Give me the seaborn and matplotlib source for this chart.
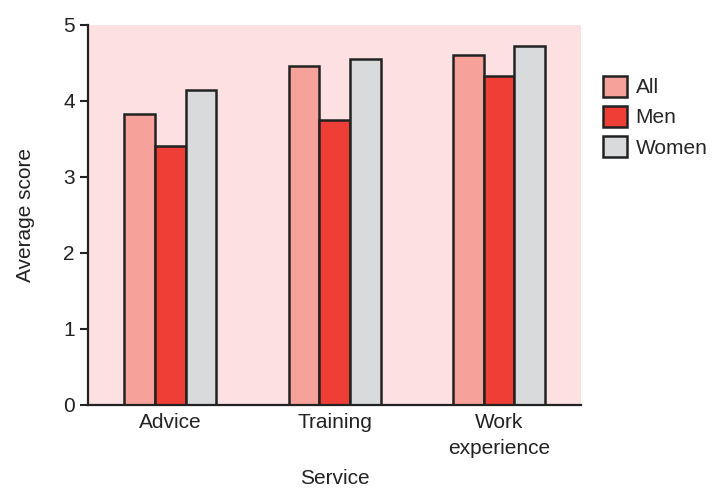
import pandas as pd
import seaborn as sns
import matplotlib.pyplot as plt

services = ['Advice', 'Training', 'Work\nexperience']
groups = ['All', 'Men', 'Women']
all_scores = [3.83, 4.46, 4.61]
men_scores = [3.41, 3.75, 4.33]
women_scores = [4.14, 4.55, 4.72]
colors = ['#f7a19b', '#ee3e35', '#d9dadc']

rows = []
for i, s in enumerate(services):
    for g, vals in zip(groups, [all_scores, men_scores, women_scores]):
        rows.append({'Service': s, 'Group': g, 'Score': vals[i]})
df = pd.DataFrame(rows)

sns.set_style('ticks')
plt.rcParams['font.family'] = ['Liberation Sans', 'DejaVu Sans']

fig = plt.figure(figsize=(7.13, 4.9), dpi=100)
ax = fig.add_axes([0.1234, 0.1735, 0.6916, 0.7755])
ax.set_facecolor('#fde0e1')

sns.barplot(data=df, x='Service', y='Score', hue='Group', hue_order=groups,
            order=services, palette=colors, width=0.56, ax=ax,
            edgecolor='#222222', linewidth=1.8, saturation=1)

fs = 15
ax.set_xlim(-0.5, 2.5)
ax.set_ylim(0, 5)
ax.set_yticks([0, 1, 2, 3, 4, 5])
ax.set_xlabel('Service', fontsize=fs, labelpad=8, color='#222222')
ax.set_ylabel('Average score', fontsize=fs, labelpad=20, color='#222222')
ax.tick_params(axis='both', labelsize=fs, colors='#222222', width=1.5, length=6)
ax.tick_params(axis='x', length=0, pad=6)
for lbl in ax.get_xticklabels():
    lbl.set_linespacing(1.45)
for side in ['top', 'right']:
    ax.spines[side].set_visible(False)
for side in ['left', 'bottom']:
    ax.spines[side].set_linewidth(1.6)
    ax.spines[side].set_color('#222222')

ax.legend(title=None, loc='upper left', bbox_to_anchor=(1.045, 0.866),
          frameon=False, fontsize=fs, handlelength=1.15, handleheight=1.15,
          labelspacing=0.42, handletextpad=0.4, borderaxespad=0, borderpad=0)

fig.savefig('out.png', dpi=100)
